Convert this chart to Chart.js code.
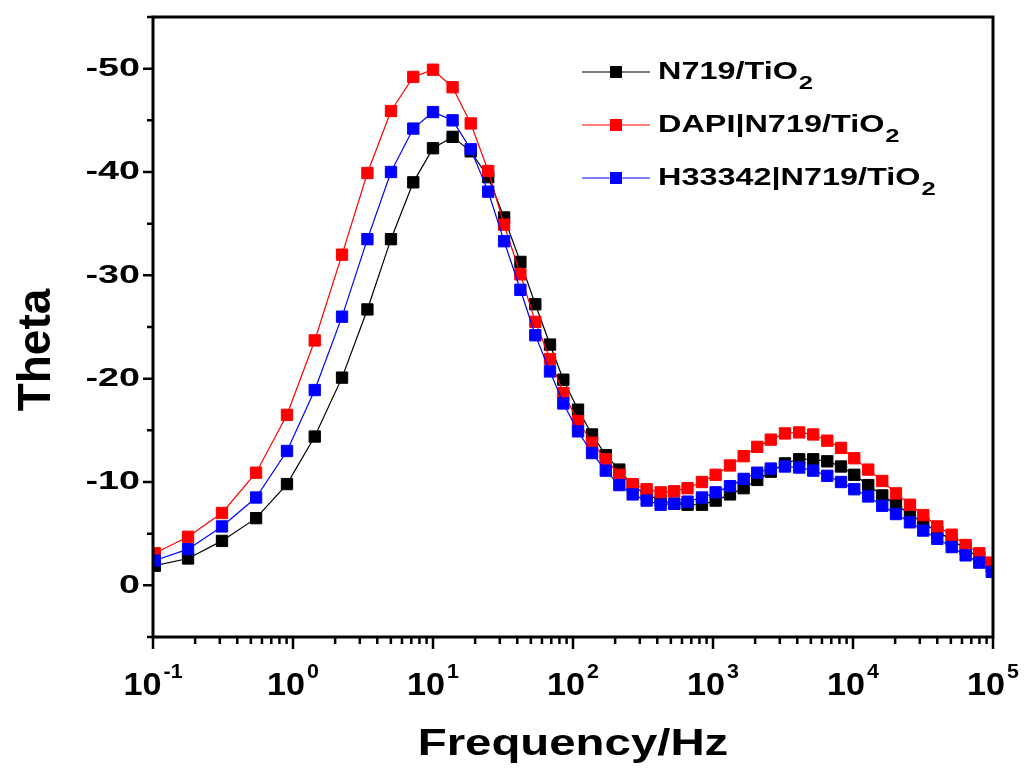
<!DOCTYPE html>
<html>
<head>
<meta charset="utf-8">
<script src="https://cdn.jsdelivr.net/npm/chart.js@4.4.1/dist/chart.umd.min.js"></script>
<style>
  html, body { margin: 0; padding: 0; background: #fff; }
  #wrap { width: 1024px; height: 769px; }
</style>
</head>
<body>
<div id="wrap"><canvas id="thetaChart"></canvas></div>
<script>
// Bode phase data (frequency in Hz, theta in degrees)
const FREQ_HZ = [0.103, 0.178, 0.311, 0.545, 0.906, 1.43, 2.24, 3.40, 5.01, 7.23,
                 10.0, 13.8, 18.6, 24.8, 32.2, 42.1, 53.8, 68.5, 85.3, 108.6,
                 136.8, 171.4, 214.3, 266.9, 335.7, 422.7, 528.2, 657.8, 834, 1045,
                 1322, 1656, 2070, 2587, 3266, 4130, 5200, 6550, 8210, 10210,
                 12850, 16180, 20280, 25520, 31770, 40000, 50700, 63800, 79800, 98000];

const THETA_N719 = [-1.9, -2.6, -4.3, -6.5, -9.8, -14.4, -20.1, -26.7, -33.5, -39.0,
                    -42.3, -43.4, -42.0, -39.5, -35.6, -31.3, -27.2, -23.3, -19.9, -17.0,
                    -14.6, -12.6, -11.2, -9.6, -8.8, -8.2, -7.9, -7.8, -7.8, -8.2,
                    -8.8, -9.4, -10.2, -11.0, -11.8, -12.2, -12.2, -12.0, -11.5, -10.7,
                    -9.7, -8.7, -7.8, -6.9, -6.0, -5.2, -4.4, -3.5, -2.7, -1.8];

const THETA_DAPI = [-3.1, -4.7, -7.0, -10.9, -16.5, -23.7, -32.0, -39.9, -45.9, -49.2,
                    -49.9, -48.2, -44.7, -40.1, -34.9, -30.1, -25.5, -21.9, -18.6, -15.9,
                    -13.8, -12.2, -10.7, -9.8, -9.3, -9.0, -9.1, -9.4, -10.0, -10.7,
                    -11.6, -12.5, -13.4, -14.1, -14.7, -14.8, -14.6, -14.0, -13.3, -12.3,
                    -11.2, -10.1, -8.9, -7.8, -6.8, -5.7, -4.9, -3.9, -3.1, -2.2];

const THETA_H33342 = [-2.4, -3.5, -5.7, -8.5, -13.0, -18.9, -26.0, -33.5, -40.0, -44.2,
                      -45.8, -45.0, -42.2, -38.1, -33.3, -28.6, -24.2, -20.7, -17.6, -14.9,
                      -12.8, -11.1, -9.7, -8.8, -8.2, -7.8, -7.9, -8.1, -8.5, -9.0,
                      -9.6, -10.3, -10.9, -11.3, -11.5, -11.4, -11.1, -10.6, -10.0, -9.3,
                      -8.6, -7.7, -6.9, -6.1, -5.3, -4.5, -3.7, -2.9, -2.2, -1.3];

const SERIES_LABELS = ['N719/TiO2', 'DAPI|N719/TiO2', 'H33342|N719/TiO2'];
const SERIES_COLORS = ['#000000', '#ff0000', '#0000ff'];

const Y_TICKS = [0, -10, -20, -30, -40, -50];
const Y_MINOR = [5, -5, -15, -25, -35, -45, -55];
const X_EXPONENTS = [-1, 0, 1, 2, 3, 4, 5];

const FONT = 'Arial, "Liberation Sans", sans-serif';

function toPoints(ys) {
    return FREQ_HZ.map((f, i) => ({ x: f, y: ys[i] }));
}

// draws text squeezed/stretched horizontally by sx
function wideText(ctx, text, x, y, sx, align) {
    ctx.save();
    ctx.translate(x, y);
    ctx.scale(sx, 1);
    ctx.textAlign = align;
    ctx.fillText(text, 0, 0);
    ctx.restore();
}

const frame = {
    id: 'frame',
    afterDatasetsDraw(chart) {
        const { ctx, chartArea: a, scales: { x, y } } = chart;
        ctx.save();
        ctx.strokeStyle = '#000';
        ctx.fillStyle = '#000';

        // box
        ctx.lineWidth = 3;
        ctx.strokeRect(a.left, a.top, a.right - a.left, a.bottom - a.top);

        // y ticks, outward
        ctx.lineWidth = 2.5;
        ctx.beginPath();
        Y_TICKS.forEach(v => {
            const py = y.getPixelForValue(v);
            ctx.moveTo(a.left - 10, py); ctx.lineTo(a.left, py);
        });
        Y_MINOR.forEach(v => {
            const py = y.getPixelForValue(v);
            ctx.moveTo(a.left - 6, py); ctx.lineTo(a.left, py);
        });
        ctx.stroke();

        // x ticks, outward
        ctx.beginPath();
        X_EXPONENTS.forEach(e => {
            const px = x.getPixelForValue(Math.pow(10, e));
            ctx.moveTo(px, a.bottom); ctx.lineTo(px, a.bottom + 12);
            if (e < 5) {
                for (let m = 2; m <= 9; m++) {
                    const pm = x.getPixelForValue(m * Math.pow(10, e));
                    ctx.moveTo(pm, a.bottom); ctx.lineTo(pm, a.bottom + 7);
                }
            }
        });
        ctx.stroke();

        // y tick labels
        ctx.font = 'bold 26px ' + FONT;
        ctx.textBaseline = 'middle';
        Y_TICKS.forEach(v => {
            wideText(ctx, String(v), a.left - 13, y.getPixelForValue(v), 1.45, 'right');
        });

        // x tick labels: 10 with superscript exponent
        ctx.textBaseline = 'alphabetic';
        X_EXPONENTS.forEach(e => {
            const px = x.getPixelForValue(Math.pow(10, e));
            const exp = e < 0 ? '-' + Math.abs(e) : String(e);
            ctx.font = 'bold 32px ' + FONT;
            const wb = ctx.measureText('10').width * 1.07;
            ctx.font = 'bold 20px ' + FONT;
            const we = ctx.measureText(exp).width * 1.07;
            const x0 = px - (wb + 2 + we) / 2;
            ctx.font = 'bold 32px ' + FONT;
            wideText(ctx, '10', x0, a.bottom + 58, 1.07, 'left');
            ctx.font = 'bold 20px ' + FONT;
            wideText(ctx, exp, x0 + wb + 2, a.bottom + 41, 1.07, 'left');
        });

        // axis titles
        ctx.font = 'bold 37px ' + FONT;
        wideText(ctx, 'Frequency/Hz', (a.left + a.right) / 2, a.bottom + 118, 1.28, 'center');
        ctx.save();
        ctx.translate(37, 350);
        ctx.rotate(-Math.PI / 2);
        ctx.font = 'bold 46px ' + FONT;
        ctx.textAlign = 'center';
        ctx.textBaseline = 'middle';
        ctx.fillText('Theta', 0, 0);
        ctx.restore();

        // legend with subscript 2
        chart.data.datasets.forEach((ds, i) => {
            const ly = 72 + i * 53;
            ctx.strokeStyle = ds.borderColor;
            ctx.lineWidth = 1.2;
            ctx.beginPath();
            ctx.moveTo(582, ly); ctx.lineTo(650, ly);
            ctx.stroke();
            ctx.fillStyle = ds.borderColor;
            ctx.fillRect(616 - 6, ly - 6, 12, 12);
            ctx.fillStyle = '#000';
            const main = ds.label.slice(0, -1);
            ctx.font = 'bold 24px ' + FONT;
            ctx.textBaseline = 'middle';
            const w = ctx.measureText(main).width * 1.35;
            wideText(ctx, main, 658, ly, 1.35, 'left');
            ctx.font = 'bold 19px ' + FONT;
            wideText(ctx, ds.label.slice(-1), 658 + w + 1, ly + 12, 1.35, 'left');
        });
        ctx.restore();
    },
};

const thetas = [THETA_N719, THETA_DAPI, THETA_H33342];

new Chart(document.getElementById('thetaChart'), {
    type: 'line',
    data: {
        datasets: thetas.map((ys, i) => ({
            label: SERIES_LABELS[i],
            data: toPoints(ys),
            borderColor: SERIES_COLORS[i],
            backgroundColor: SERIES_COLORS[i],
            borderWidth: 1.2,
            pointStyle: 'rect',
            pointRadius: 8,
            pointBorderWidth: 1,
            tension: 0,
            order: 3 - i,
        })),
    },
    options: {
        responsive: true,
        maintainAspectRatio: false,
        animation: false,
        layout: { padding: { left: 153, right: 31, top: 17, bottom: 132 } },
        plugins: { legend: { display: false }, tooltip: { enabled: false } },
        scales: {
            x: { type: 'logarithmic', min: 0.1, max: 100000, display: false },
            y: { type: 'linear', min: -55, max: 5, reverse: true, display: false },
        },
    },
    plugins: [frame],
});
</script>
</body>
</html>
